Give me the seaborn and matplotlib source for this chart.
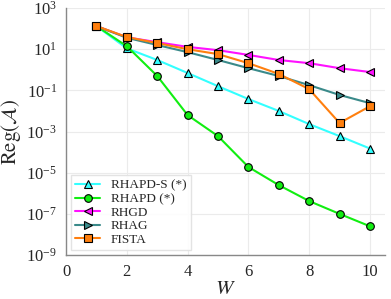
import numpy as np
import pandas as pd
import matplotlib
matplotlib.use("Agg")
import matplotlib.pyplot as plt
import seaborn as sns

# values
W = [1, 2, 3, 4, 5, 6, 7, 8, 9, 10]
rhapd_s = [133, 11, 3.0, 0.7, 0.16, 0.038, 0.01, 2.3e-3, 6e-4, 1.5e-4]
rhapd = [133, 14, 0.5, 6.3e-3, 6e-4, 1.9e-5, 2.5e-6, 4.2e-7, 1.0e-7, 2.5e-8]
rhgd = [133, 38, 22, 13, 9.0, 5.3, 3.0, 2.1, 1.2, 0.78]
rhag = [133, 36, 16, 7.2, 3.0, 1.2, 0.5, 0.18, 0.06, 0.024]
fista = [133, 39, 20, 10, 5.8, 2.1, 0.63, 0.115, 2.6e-3, 0.017]

names = ["RHAPD-S (*)", "RHAPD (*)", "RHGD", "RHAG", "FISTA"]
series = [rhapd_s, rhapd, rhgd, rhag, fista]
colors = ["#33ffff", "#11ee11", "#ff11ff", "#3a8a8a", "#ff7f0e"]
markers = ["^", "o", "<", ">", "s"]

sns.set_style("whitegrid")
plt.rcParams["font.family"] = ["Liberation Serif", "DejaVu Serif"]
plt.rcParams["mathtext.fontset"] = "stix"

fig = plt.figure(figsize=(3.91, 2.99), dpi=100)
ax = fig.add_axes([0.169, 0.147, 0.816, 0.826])

for name, vals, c, m in zip(names, series, colors, markers):
    df = pd.DataFrame({"W": W, "reg": vals})
    sns.lineplot(data=df, x="W", y="reg", ax=ax, color=c, marker=m, label=name,
                 linewidth=1.5, markersize=5.5, markeredgecolor="black",
                 markeredgewidth=0.8, markerfacecolor=c)

ax.set_yscale("log")
ax.set_ylim(1e-9, 1e3)
ax.set_xlim(0, 10.5)
ax.set_xticks([0, 2, 4, 6, 8, 10])
ax.set_yticks([1e-9, 1e-7, 1e-5, 1e-3, 1e-1, 1e1, 1e3])
ax.minorticks_off()
ax.tick_params(axis="both", labelsize=12, length=3, color="#888888", direction="out")
ax.set_xlabel(r"$W$", fontsize=15, labelpad=0)
ax.set_ylabel(r"$\mathrm{Reg}(\mathcal{A})$", fontsize=15, labelpad=2)
ax.grid(True, color="#ebebeb", linewidth=0.8)
for s in ["top", "right"]:
    ax.spines[s].set_visible(False)
for s in ["left", "bottom"]:
    ax.spines[s].set_color("#888888")
    ax.spines[s].set_linewidth(1.0)

ax.legend(loc="lower left", fontsize=9.5, frameon=True, framealpha=0.9,
          handlelength=1.9, borderpad=0.3, labelspacing=0.1, fancybox=False,
          edgecolor="#e0e0e0", borderaxespad=0.4)

fig.savefig("out.png", dpi=100)
